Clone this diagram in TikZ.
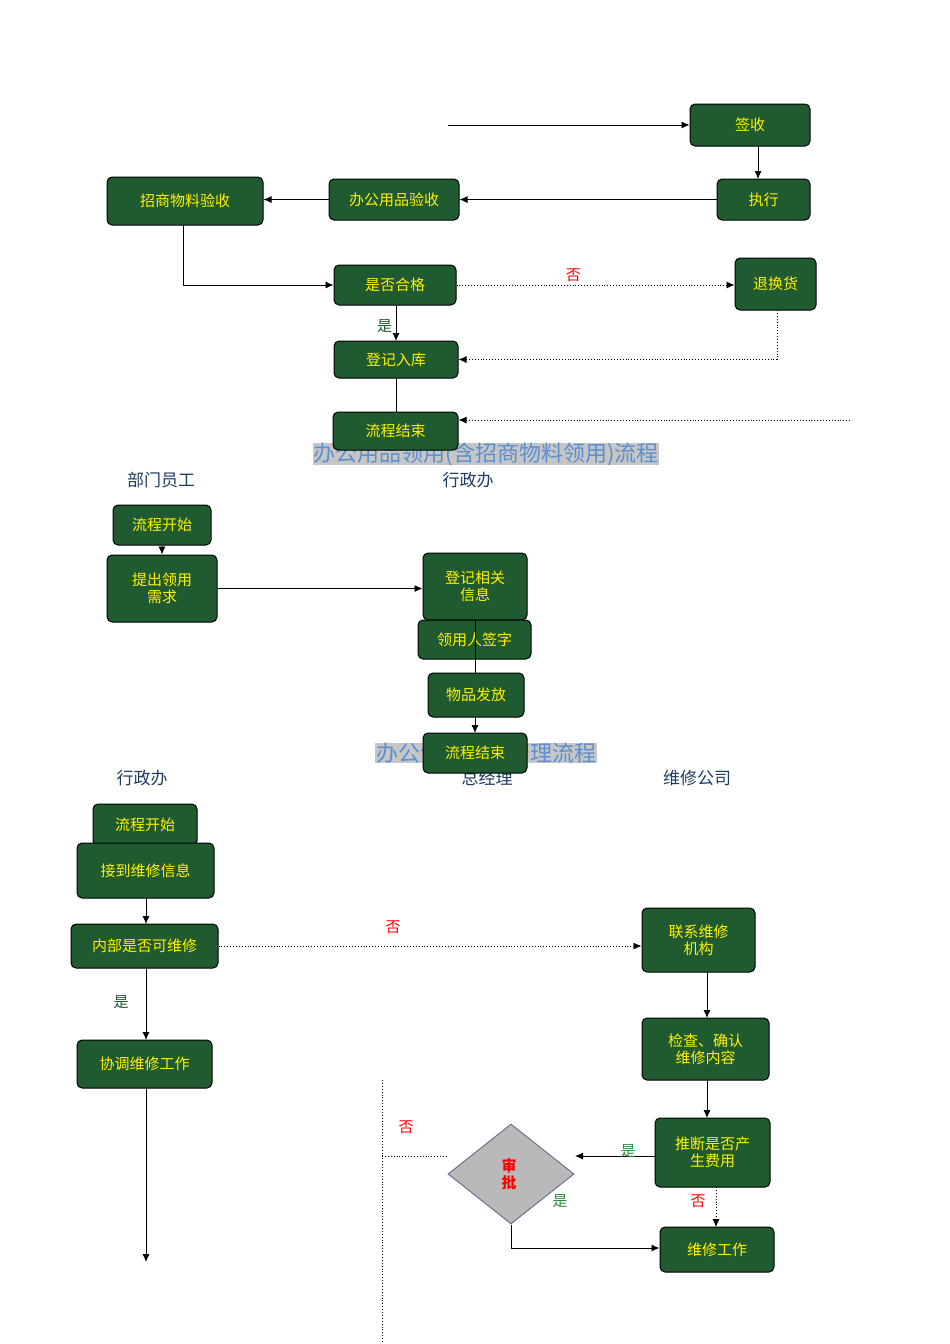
\documentclass[tikz,border=0pt]{standalone}
\usepackage{fontspec}
\setmainfont{Noto Sans CJK SC}
\usetikzlibrary{shapes.geometric,arrows.meta}
\definecolor{boxg}{HTML}{1F5A30}
\definecolor{titb}{HTML}{5B8FD0}
\definecolor{lblue}{HTML}{1F3A60}
\definecolor{ygreen}{HTML}{2E8B3A}
\tikzset{
  bx/.style={draw=black,line width=1pt,rounded corners=5pt,fill=boxg,text=yellow,font=\fontsize{15}{17}\selectfont,align=center,inner sep=0pt},
  ar/.style={-{Latex[length=8pt,width=7pt]},line width=0.9pt},
  ln/.style={line width=0.9pt},
  dt/.style={dotted,line width=0.9pt},
  red lbl/.style={text=red,font=\fontsize{15}{17}\selectfont},
  grn/.style={text=ygreen,font=\fontsize{15}{17}\selectfont},
  dgrn/.style={text=boxg,font=\fontsize{15}{17}\selectfont},
  lane/.style={text=lblue,font=\fontsize{17}{19}\selectfont},
  ttl/.style={fill=gray!45,text=titb,font=\fontsize{22}{24}\selectfont,inner xsep=1pt,inner ysep=0pt}
}
\newcommand{\bxat}[6]{\node[bx,minimum width=#4-#2,minimum height=#5-#3] (#1) at ({(#2+#4)/2},{(#3+#5)/2}) {#6};}
\begin{document}
\begin{tikzpicture}[x=1pt,y=-1pt]
\useasboundingbox (0,0) rectangle (950,1344);
\node[ttl] (t1) at (486,454) {办公用品领用(含招商物料领用)流程};
\node[ttl] (t2) at (486,753) {办公设备维修管理流程};
\node[lane] (l1) at (161,480) {部门员工};
\node[lane] (l2) at (468,480) {行政办};
\node[lane] (l3) at (142,778) {行政办};
\node[lane] (l4) at (487,778) {总经理};
\node[lane] (l5) at (697,778) {维修公司};
% section 1
\bxat{qs}{690}{104}{810}{146}{签收}
\bxat{zx}{717}{179}{810}{220}{执行}
\bxat{bg}{329}{179}{459}{220}{办公用品验收}
\bxat{zs}{107}{177}{263}{225}{招商物料验收}
\bxat{hg}{334}{265}{456}{305}{是否合格}
\bxat{th}{735}{258}{816}{310}{退换货}
\bxat{dj}{334}{341}{458}{378}{登记入库}
\bxat{js}{333}{412}{458}{450}{流程结束}
\coordinate (s1) at (448,125);
\coordinate (s2) at (850,420);
\draw[ar] (s1) -- (qs.west);
\draw[ar] (758,146) -- (758,179);
\draw[ar] (zx.west) -- (bg.east);
\draw[ar] (bg.west) -- (zs.east |- bg.west);
\draw[ar] (183,225) |- (hg.west);
\draw[ar,dotted] (hg.east) -- node[red lbl,above,pos=0.42]{否} (th.west |- hg.east);
\draw[ar] (396,305) -- node[dgrn,left,pos=0.6]{是} (396,341);
\draw[ar,dotted] (777,310) |- (dj.east);
\draw[ln] (396,378) -- (396,412);
\draw[ar,dotted] (s2) -- (js.east |- s2);
% section 2
\bxat{ks}{113}{505}{211}{545}{流程开始}
\bxat{tc}{107}{555}{217}{622}{提出领用\\需求}
\bxat{xx}{423}{553}{527}{620}{登记相关\\信息}
\bxat{qz}{418}{620}{531}{659}{领用人签字}
\bxat{ff}{428}{673}{524}{717}{物品发放}
\bxat{js2}{423}{733}{527}{773}{流程结束}
\draw[ar] (ks.south) -- (tc.north);
\draw[ar] (tc.east) -- (xx.west |- tc.east);
\draw[ln] (475,620) -- (475,673);
\draw[ar] (475,717) -- (475,733);
% section 3
\bxat{ks3}{93}{804}{197}{846}{流程开始}
\bxat{jd}{77}{843}{214}{898}{接到维修信息}
\bxat{nb}{71}{924}{218}{968}{内部是否可维修}
\bxat{xt}{77}{1040}{212}{1088}{协调维修工作}
\bxat{lx}{642}{908}{755}{972}{联系维修\\机构}
\bxat{jc}{642}{1018}{769}{1080}{检查、确认\\维修内容}
\bxat{tdf}{655}{1118}{770}{1187}{推断是否产\\生费用}
\bxat{wx}{660}{1227}{774}{1272}{维修工作}
\node[diamond,draw=lblue!70,line width=1pt,fill=gray!55,minimum width=126,minimum height=100,inner sep=0pt] (sp) at (511,1174) {};
\node[text=red,font=\bfseries\fontsize{15}{17}\selectfont,align=center] (spt) at (509,1174) {审\\批};
\coordinate (e3) at (146,1262);
\coordinate (v1) at (382,1080);
\coordinate (v2) at (382,1344);
\coordinate (h1) at (382,1156);
\draw[ar] (146,968) -- (146,1040);
\node[dgrn] (y1) at (121,1002) {是};
\draw[ar] (146,898) -- (146,924);
\draw[ar] (146,1088) -- (e3);
\draw[ar,dotted] (nb.east) -- (lx.west |- nb.east);
\node[red lbl] (n1) at (393,927) {否};
\draw[ar] (707,972) -- (707,1018);
\draw[ar] (707,1080) -- (707,1118);
\draw[ar] (655,1156) -- (575,1156);
\node[grn] (y3) at (628,1151) {是};
\draw[ar,dotted] (716,1187) -- (716,1227);
\node[red lbl] (n2) at (698,1201) {否};
\draw[ar] (sp.south) |- (wx.west |- 0,1248);
\node[grn] (y2) at (560,1201) {是};
\draw[dt] (v1) -- (v2);
\draw[dt] (h1) -- (448,1156);
\node[red lbl] (n3) at (406,1127) {否};
\end{tikzpicture}
\end{document}
